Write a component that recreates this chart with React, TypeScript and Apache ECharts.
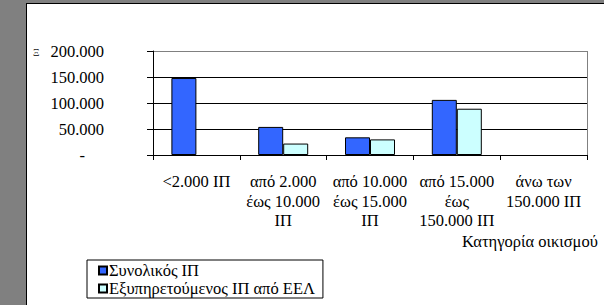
import React, { useEffect, useRef } from "react";
import * as echarts from "echarts";

const categories = [
  "<2.000 ΙΠ",
  "από 2.000\nέως 10.000\nΙΠ",
  "από 10.000\nέως 15.000\nΙΠ",
  "από 15.000\nέως\n150.000 ΙΠ",
  "άνω των\n150.000 ΙΠ",
];
const totalPE = [148000, 54000, 34000, 106000, 0];
const servedPE = [0, 22000, 30000, 89000, 0];
const seriesNames = ["Συνολικός ΙΠ", "Εξυπηρετούμενος ΙΠ από ΕΕΛ"];
const xAxisTitle = "Κατηγορία οικισμού";
const yAxisTitle = "Ξ";

const FONT = "Times New Roman";
const FS = 16.5;

function fmt(v: number): string {
  if (v === 0) return "{dash|-}";
  return String(v).replace(/\B(?=(\d{3})+(?!\d))/g, ".");
}

function barData(values: number[]) {
  return values.map((v) => (v === 0 ? { value: v, itemStyle: { borderWidth: 0, opacity: 0 } } : v));
}

export default function App() {
  const ref = useRef<HTMLDivElement>(null);
  useEffect(() => {
    if (!ref.current) return;
    const chart = echarts.init(ref.current, undefined, { renderer: "svg" });
    chart.setOption({
      animation: false,
      backgroundColor: "transparent",
      grid: { left: 153, right: 17, top: 51, bottom: 150, show: false },
      xAxis: {
        type: "category",
        data: categories,
        axisLine: { lineStyle: { color: "#000", width: 1 } },
        axisTick: { show: true, length: 5, inside: false, lineStyle: { color: "#000" } },
        axisLabel: {
          color: "#000",
          fontSize: FS,
          fontFamily: FONT,
          lineHeight: 19.5,
          margin: 17,
          interval: 0,
          align: "center",
        },
        splitLine: { show: false },
      },
      yAxis: {
        type: "value",
        min: 0,
        max: 200000,
        interval: 50000,
        axisLine: { show: true, lineStyle: { color: "#000", width: 1 } },
        axisTick: { show: true, length: 6, lineStyle: { color: "#000" } },
        axisLabel: {
          color: "#000",
          fontSize: FS,
          fontFamily: FONT,
          margin: 49,
          formatter: (v: number) => fmt(v),
          rich: {
            dash: { fontSize: FS, fontFamily: FONT, color: "#000", padding: [0, 19, 0, 0] },
          },
        },
        splitLine: {
          show: true,
          lineStyle: { color: ["#000", "#000", "#000", "#000", "#808080"], width: 1 },
        },
      },
      legend: {
        orient: "vertical",
        left: 87,
        top: 260,
        data: seriesNames,
        icon: "rect",
        itemWidth: 8,
        itemHeight: 8,
        itemGap: 1,
        borderColor: "#000",
        borderWidth: 1,
        padding: [2, 8, 1, 11],
        textStyle: {
          fontSize: FS,
          fontFamily: FONT,
          color: "#000",
          lineHeight: 17,
          padding: [0, 0, 0, -3],
        },
      },
      graphic: [
        {
          type: "line",
          shape: { x1: 587.5, y1: 51, x2: 587.5, y2: 155 },
          style: { stroke: "#808080", lineWidth: 1 },
          silent: true,
        },
        {
          type: "text",
          left: 462,
          top: 233,
          style: { text: xAxisTitle, fontSize: FS, fontFamily: FONT, fill: "#000" },
        },
        {
          type: "text",
          left: 33,
          top: 47,
          style: { text: yAxisTitle, fontSize: 10, fontFamily: FONT, fill: "#333" },
        },
      ],
      series: [
        {
          name: seriesNames[0],
          type: "bar",
          data: barData(totalPE),
          barWidth: 25,
          barGap: "0%",
          itemStyle: { color: "#3366FF", borderColor: "#000", borderWidth: 1 },
        },
        {
          name: seriesNames[1],
          type: "bar",
          data: barData(servedPE),
          barWidth: 25,
          barGap: "0%",
          itemStyle: { color: "#CCFFFF", borderColor: "#000", borderWidth: 1 },
        },
      ],
    });
    return () => chart.dispose();
  }, []);

  return (
    <div style={{ position: "fixed", left: 0, top: 0, width: 604, height: 305, background: "#808080" }}>
      <div
        style={{
          position: "absolute",
          left: 26,
          top: 3,
          right: 0,
          bottom: 0,
          background: "#fff",
          borderLeft: "1px solid #000",
          borderTop: "1px solid #000",
        }}
      />
      <div ref={ref} style={{ position: "absolute", left: 0, top: 0, width: 604, height: 305 }} />
    </div>
  );
}
